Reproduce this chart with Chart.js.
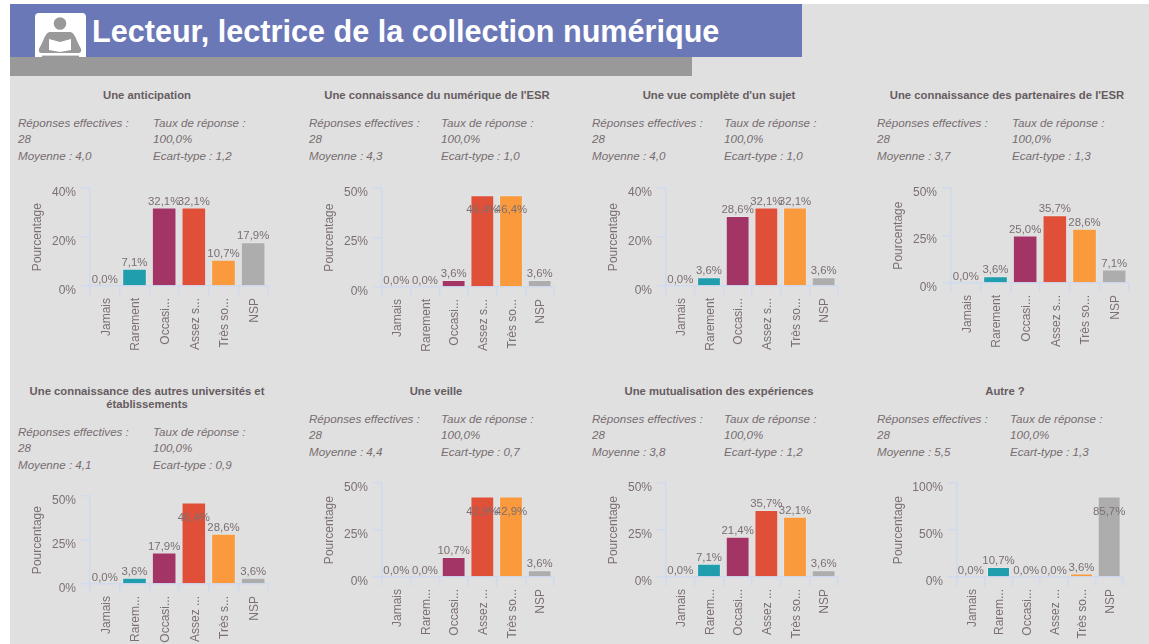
<!DOCTYPE html>
<html lang="fr"><head><meta charset="utf-8">
<script src="https://cdn.jsdelivr.net/npm/chart.js@4"></script>
<style>
html,body{margin:0;padding:0;background:#fff;width:1149px;height:644px;overflow:hidden;font-family:"Liberation Sans",Arial,sans-serif}
#page{position:absolute;left:10px;top:4px;width:1139px;height:640px;background:#e0e0e0}
#bar1{position:absolute;left:10px;top:4px;width:792px;height:53px;background:#6b78b8}
#bar2{position:absolute;left:10px;top:57px;width:682px;height:19px;background:#999}
#title{position:absolute;left:92px;top:13px;font-weight:bold;font-size:30.6px;line-height:36px;color:#fff;white-space:nowrap}
#icon{position:absolute;left:35px;top:13px}
.t{position:absolute;font-weight:bold;font-size:11.3px;line-height:13px;color:#665c60;text-align:center;transform:translateX(-50%);width:270px}
.m{position:absolute;font-style:italic;font-size:11.6px;line-height:16.4px;color:#776c70;white-space:nowrap}
canvas{position:absolute}
</style></head><body>
<div id="page"></div><div id="bar1"></div><div id="bar2"></div>
<svg id="icon" width="51" height="44" viewBox="0 0 51 44"><path d="M0 44V4a4 4 0 0 1 4-4h43a4 4 0 0 1 4 4v40z" fill="#fff"/>
<circle cx="25" cy="10.5" r="6.3" fill="#999"/>
<path d="M15 19h20q4 0 7 9l4 8q1 3-2 4H6q-3-1-2-4l4-8q3-9 7-9z" fill="#999"/>
<path d="M14 26l11 3 11-3v11l-11 2-11-2z" fill="#fff"/>
<rect x="7" y="42.6" width="37" height="1.4" fill="#999"/></svg>
<div id="title">Lecteur, lectrice de la collection numérique</div>
<script>
const titles=["Une anticipation","Une connaissance du numérique de l'ESR","Une vue complète d'un sujet","Une connaissance des partenaires de l'ESR","Une connaissance des autres universités et<br>établissements","Une veille","Une mutualisation des expériences","Autre ?"];
const moyennes=["4,0","4,3","4,0","3,7","4,1","4,4","3,8","5,5"];
const ecarts=["1,2","1,0","1,0","1,3","0,9","0,7","1,2","1,3"];
const effectifs=[28,28,28,28,28,28,28,28];
const taux=["100,0%","100,0%","100,0%","100,0%","100,0%","100,0%","100,0%","100,0%"];
const labelsA=["Jamais","Rarement","Occasi...","Assez s...","Très so...","NSP"];
const labelsB=["Jamais","Rarem...","Occasi...","Assez ...","Très s...","NSP"];
const labelsC=["Jamais","Rarem...","Occasi...","Assez ...","Très so...","NSP"];
const categories=[labelsA,labelsA,labelsA,labelsA,labelsB,labelsC,labelsC,labelsC];
const v1=[0,7.1,32.1,32.1,10.7,17.9];
const v2=[0,0,3.6,46.4,46.4,3.6];
const v3=[0,3.6,28.6,32.1,32.1,3.6];
const v4=[0,3.6,25.0,35.7,28.6,7.1];
const v5=[0,3.6,17.9,46.4,28.6,3.6];
const v6=[0,0,10.7,42.9,42.9,3.6];
const v7=[0,7.1,21.4,35.7,32.1,3.6];
const v8=[0,10.7,0,0,3.6,85.7];
const series=[v1,v2,v3,v4,v5,v6,v7,v8];
const axisMax=[40,50,40,50,50,50,50,100];
const axisStep=[20,25,20,25,25,25,25,50];
const colors=["#6f8fc0","#219eae","#a33566","#e05038","#fb9a3c","#adadad"];

// page layout, separate from the data
const plots=[[90,268,188,286,61],[382,554,188,287,61],[666,838,188,286,61],[951,1129,188,283,61],
             [90,268,496,584,61],[382,554,483,577,61],[666,838,483,577,61],[957,1123,483,577,67]];
const titlePos=[[147,89],[437,89],[719,89],[1007,89],[147,385],[436,385],[719,385],[1005,385]];
const metaPos=[[18,153,115],[309,441,115],[592,724,115],[877,1012,115],[18,153,424],[309,441,411],[592,724,411],[877,1010,411]];
const TEXT="#7b6f72", AXIS="#d0daef", FONT='"Liberation Sans",Arial,sans-serif';

const valueLabels={id:'valueLabels',afterDatasetsDraw(ch){
  const c=ch.ctx,m=ch.getDatasetMeta(0),d=ch.data.datasets[0].data;
  c.save();c.font='11.4px '+FONT;c.fillStyle=TEXT;c.textAlign='center';c.textBaseline='middle';
  m.data.forEach((el,i)=>{
    const inside=(el.y-ch.chartArea.top)<15;
    c.fillText(d[i].toFixed(1).replace('.',',')+'%',el.x,inside?el.y+15:el.y-6);
  });c.restore();
}};

function addDiv(cls,x,y,html){const e=document.createElement('div');e.className=cls;e.style.left=x+'px';e.style.top=y+'px';e.innerHTML=html;document.body.appendChild(e);}

series.forEach((vals,k)=>{
  addDiv('t',titlePos[k][0],titlePos[k][1],titles[k]);
  const [mx1,mx2,my]=metaPos[k];
  addDiv('m',mx1,my,'Réponses effectives :<br>'+effectifs[k]+'<br>Moyenne : '+moyennes[k]);
  addDiv('m',mx2,my,'Taux de réponse :<br>'+taux[k]+'<br>Ecart-type : '+ecarts[k]);
  const [l,r,t,b,w]=plots[k];
  const xH=64,pT=8,shift=12,pR=8;
  const cv=document.createElement('canvas');
  const W=r-l+w+pR,H=b-t+shift+xH;
  cv.width=W;cv.height=H;cv.style.left=(l-w)+'px';cv.style.top=(t-shift)+'px';cv.style.width=W+'px';cv.style.height=H+'px';
  document.body.appendChild(cv);
  new Chart(cv,{type:'bar',plugins:[valueLabels],
    data:{labels:categories[k],datasets:[{data:vals,backgroundColor:colors,borderColor:'rgba(235,235,235,0.45)',borderWidth:1,barPercentage:0.83,categoryPercentage:1}]},
    options:{responsive:false,animation:false,events:[],
      layout:{autoPadding:false,padding:{top:pT,right:pR,left:0,bottom:0}},
      plugins:{legend:{display:false},tooltip:{enabled:false},title:{display:false}},
      scales:{
        x:{grid:{color:AXIS,lineWidth:1.5,drawOnChartArea:false,tickLength:9,offset:true},border:{color:AXIS,width:1.5},
          afterFit(s){s.height=xH;},
          ticks:{autoSkip:false,minRotation:90,maxRotation:90,padding:3,labelOffset:1.5,color:TEXT,font:{size:12,family:FONT}}},
        y:{min:0,max:axisMax[k],grid:{color:AXIS,lineWidth:1.5,drawOnChartArea:false,tickLength:9},border:{color:AXIS,width:1.5},
          afterFit(s){s.width=w;},
          title:{display:true,text:'Pourcentage',color:TEXT,font:{size:12,family:FONT},padding:{top:1,bottom:0}},
          ticks:{stepSize:axisStep[k],padding:5,labelOffset:4.5,color:TEXT,font:{size:12,family:FONT},callback:v=>v+'%'}}
      }}});
});
</script></body></html>
